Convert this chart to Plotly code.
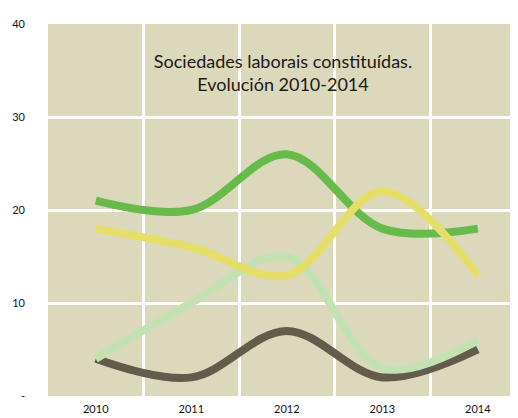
import plotly.graph_objects as go

anos = [2010, 2011, 2012, 2013, 2014]

serie_verde = [21, 20, 26, 18, 18]
serie_escura = [4, 2, 7, 2, 5]
serie_verde_clara = [4, 10, 15, 3, 6]
serie_amarela = [18, 16, 13, 22, 13]

ticks_y = [0, 10, 20, 30, 40]
etiquetas_y = ["-", "10", "20", "30", "40"]

series = [
    ("Verde", serie_verde, "#66bb4b"),
    ("Escura", serie_escura, "#635b4b"),
    ("Verde clara", serie_verde_clara, "#c3e2b4"),
    ("Amarela", serie_amarela, "#e5df69"),
]

fig = go.Figure()

for nome, valores, cor in series:
    fig.add_trace(go.Scatter(
        x=anos,
        y=valores,
        name=nome,
        mode="lines",
        line=dict(color=cor, width=8, shape="spline", smoothing=1.0),
        showlegend=False,
    ))

# a páxina ten 8px de marxe no body, compénsase aquí
fig.update_layout(
    width=518,
    height=418,
    margin={"l": 40, "r": 8, "t": 16, "b": 30, "autoexpand": False},
    paper_bgcolor="white",
    plot_bgcolor="#dcd8bb",
    font=dict(family="Lato", color="#222222"),
    title=dict(
        text="Sociedades laborais constituídas.<br>Evolución 2010-2014",
        x=275 / 518,
        xanchor="center",
        y=1 - 60 / 418,
        yanchor="middle",
        font=dict(size=18, color="#1a1a1a"),
    ),
)

fig.update_xaxes(
    range=[2009.5, 2014.42],
    tickvals=anos,
    ticktext=[str(a) for a in anos],
    showgrid=False,
    zeroline=False,
    showline=False,
    ticks="",
    automargin=False,
    ticklabelstandoff=5,
    tickfont=dict(size=11, color="#111111"),
    minor=dict(tick0=2009.5, dtick=1, showgrid=True, gridcolor="white", gridwidth=3),
)

fig.update_yaxes(
    range=[0, 40],
    tickvals=ticks_y,
    ticktext=etiquetas_y,
    showgrid=True,
    gridcolor="white",
    gridwidth=3,
    zeroline=False,
    showline=False,
    ticks="",
    automargin=False,
    ticklabelstandoff=22,
    tickfont=dict(size=11, color="#111111"),
)

fig.write_html("out.html")
